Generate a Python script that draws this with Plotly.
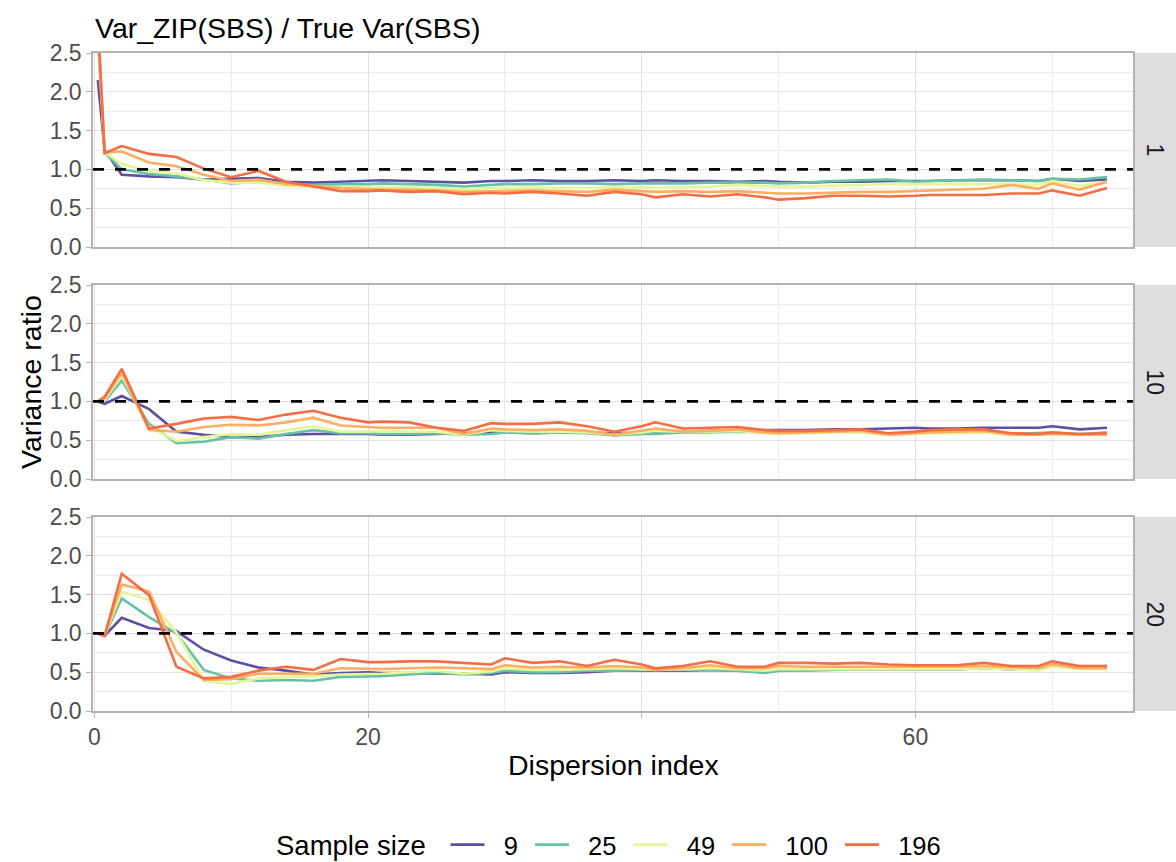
import plotly.graph_objects as go
from plotly.subplots import make_subplots

# ---------------- data ----------------
dispersion_index = [0.25, 0.75, 2, 4, 6, 8, 10, 12, 14, 16, 18, 20,
                    21, 23, 25, 27, 29, 30, 32, 34, 36, 38, 40, 41, 43, 45, 47, 49, 50,
                    52, 54, 56, 58, 60, 61, 63, 65, 67, 69, 70, 72, 74]

sample_sizes = ["9", "25", "49", "100", "196"]
facet_labels = ["1", "10", "20"]
y_ticks = [0.0, 0.5, 1.0, 1.5, 2.0, 2.5]
x_ticks = [0, 20, 40, 60]
x_tick_text = ["0", "20", "", "60"]

# facet "1"
f1_n9 = [2.15, 1.25, 0.93, 0.91, 0.90, 0.87, 0.88, 0.89, 0.84, 0.83, 0.84, 0.85,
         0.86, 0.85, 0.84, 0.83, 0.85, 0.85, 0.86, 0.85, 0.85, 0.86,
         0.85, 0.86, 0.85, 0.85, 0.84, 0.85, 0.84, 0.83, 0.84, 0.84,
         0.85, 0.85, 0.85, 0.86, 0.86, 0.86, 0.85, 0.88, 0.85, 0.87]
f1_n25 = [2.70, 1.22, 1.00, 0.94, 0.91, 0.87, 0.82, 0.84, 0.80, 0.80, 0.81, 0.81,
          0.82, 0.81, 0.80, 0.78, 0.80, 0.81, 0.81, 0.82, 0.82, 0.81,
          0.82, 0.82, 0.82, 0.83, 0.83, 0.83, 0.82, 0.83, 0.85, 0.86,
          0.87, 0.84, 0.85, 0.86, 0.87, 0.86, 0.85, 0.88, 0.87, 0.90]
f1_n49 = [2.80, 1.22, 1.07, 0.98, 0.95, 0.86, 0.83, 0.83, 0.79, 0.78, 0.77, 0.77,
          0.77, 0.77, 0.76, 0.74, 0.76, 0.76, 0.77, 0.76, 0.76, 0.77,
          0.77, 0.76, 0.77, 0.78, 0.80, 0.79, 0.78, 0.78, 0.79, 0.80,
          0.81, 0.81, 0.81, 0.81, 0.81, 0.81, 0.80, 0.85, 0.79, 0.84]
f1_n100 = [2.85, 1.22, 1.23, 1.09, 1.04, 0.93, 0.85, 0.87, 0.81, 0.79, 0.76, 0.75,
           0.74, 0.74, 0.73, 0.71, 0.72, 0.72, 0.73, 0.72, 0.71, 0.74,
           0.72, 0.71, 0.72, 0.71, 0.72, 0.70, 0.69, 0.69, 0.70, 0.71,
           0.71, 0.72, 0.73, 0.74, 0.75, 0.80, 0.75, 0.82, 0.74, 0.84]
f1_n196 = [2.95, 1.21, 1.30, 1.20, 1.16, 1.01, 0.90, 0.98, 0.84, 0.78, 0.72, 0.72,
           0.73, 0.71, 0.72, 0.68, 0.70, 0.69, 0.71, 0.69, 0.66, 0.71,
           0.68, 0.64, 0.68, 0.65, 0.68, 0.64, 0.61, 0.63, 0.66, 0.66,
           0.65, 0.66, 0.67, 0.67, 0.67, 0.69, 0.69, 0.73, 0.66, 0.76]

# facet "10"
f10_n9 = [1.00, 0.97, 1.07, 0.90, 0.61, 0.57, 0.54, 0.54, 0.57, 0.58, 0.58, 0.58,
          0.57, 0.57, 0.58, 0.59, 0.61, 0.60, 0.59, 0.60, 0.60, 0.59,
          0.60, 0.60, 0.61, 0.62, 0.63, 0.63, 0.63, 0.63, 0.64, 0.64,
          0.65, 0.66, 0.65, 0.65, 0.66, 0.66, 0.66, 0.68, 0.64, 0.66]
f10_n25 = [1.00, 1.00, 1.27, 0.71, 0.46, 0.48, 0.54, 0.52, 0.58, 0.63, 0.59, 0.59,
           0.58, 0.58, 0.59, 0.57, 0.58, 0.60, 0.59, 0.60, 0.59, 0.56,
           0.58, 0.58, 0.60, 0.60, 0.61, 0.60, 0.60, 0.60, 0.61, 0.62,
           0.58, 0.60, 0.61, 0.61, 0.62, 0.58, 0.59, 0.60, 0.58, 0.60]
f10_n49 = [1.00, 1.02, 1.33, 0.67, 0.49, 0.54, 0.58, 0.57, 0.63, 0.68, 0.61, 0.61,
           0.62, 0.61, 0.61, 0.57, 0.63, 0.62, 0.61, 0.61, 0.60, 0.57,
           0.60, 0.62, 0.61, 0.61, 0.62, 0.59, 0.58, 0.59, 0.60, 0.60,
           0.57, 0.58, 0.59, 0.59, 0.60, 0.57, 0.57, 0.58, 0.57, 0.57]
f10_n100 = [1.00, 1.04, 1.37, 0.63, 0.61, 0.67, 0.70, 0.69, 0.73, 0.79, 0.69, 0.67,
            0.66, 0.66, 0.66, 0.58, 0.65, 0.64, 0.63, 0.64, 0.62, 0.57,
            0.62, 0.65, 0.61, 0.62, 0.64, 0.60, 0.59, 0.60, 0.61, 0.62,
            0.57, 0.59, 0.60, 0.61, 0.62, 0.57, 0.57, 0.58, 0.57, 0.57]
f10_n196 = [1.00, 1.06, 1.42, 0.65, 0.71, 0.78, 0.80, 0.76, 0.83, 0.88, 0.79, 0.73,
            0.74, 0.73, 0.66, 0.62, 0.72, 0.71, 0.71, 0.73, 0.68, 0.61,
            0.68, 0.73, 0.65, 0.66, 0.67, 0.63, 0.62, 0.62, 0.63, 0.64,
            0.59, 0.61, 0.63, 0.64, 0.64, 0.59, 0.58, 0.60, 0.58, 0.59]

# facet "20"
f20_n9 = [1.00, 0.97, 1.20, 1.07, 1.03, 0.79, 0.65, 0.56, 0.52, 0.47, 0.49, 0.50,
          0.49, 0.49, 0.48, 0.48, 0.47, 0.50, 0.49, 0.49, 0.50, 0.52,
          0.52, 0.52, 0.52, 0.53, 0.52, 0.51, 0.52, 0.53, 0.54, 0.54,
          0.54, 0.54, 0.54, 0.54, 0.55, 0.54, 0.54, 0.60, 0.56, 0.58]
f20_n25 = [1.00, 0.97, 1.45, 1.21, 1.00, 0.53, 0.42, 0.39, 0.40, 0.39, 0.44, 0.45,
           0.45, 0.47, 0.49, 0.47, 0.49, 0.52, 0.50, 0.50, 0.52, 0.52,
           0.53, 0.53, 0.53, 0.53, 0.52, 0.49, 0.52, 0.52, 0.53, 0.54,
           0.54, 0.54, 0.54, 0.54, 0.55, 0.54, 0.54, 0.58, 0.55, 0.56]
f20_n49 = [1.00, 0.97, 1.54, 1.43, 1.01, 0.39, 0.35, 0.42, 0.44, 0.45, 0.47, 0.48,
           0.48, 0.50, 0.52, 0.48, 0.51, 0.55, 0.53, 0.53, 0.54, 0.55,
           0.54, 0.53, 0.54, 0.55, 0.54, 0.52, 0.54, 0.54, 0.54, 0.54,
           0.54, 0.54, 0.54, 0.54, 0.55, 0.54, 0.52, 0.57, 0.54, 0.54]
f20_n100 = [1.00, 0.97, 1.63, 1.54, 0.76, 0.40, 0.41, 0.48, 0.48, 0.48, 0.55, 0.54,
            0.54, 0.55, 0.56, 0.55, 0.54, 0.59, 0.56, 0.57, 0.56, 0.58,
            0.56, 0.53, 0.55, 0.59, 0.55, 0.55, 0.58, 0.57, 0.57, 0.57,
            0.57, 0.57, 0.57, 0.57, 0.58, 0.56, 0.56, 0.60, 0.55, 0.55]
f20_n196 = [1.00, 0.97, 1.77, 1.49, 0.57, 0.42, 0.44, 0.52, 0.57, 0.53, 0.67, 0.63,
            0.63, 0.64, 0.64, 0.62, 0.60, 0.68, 0.62, 0.64, 0.58, 0.66,
            0.60, 0.55, 0.58, 0.64, 0.57, 0.57, 0.62, 0.62, 0.61, 0.62,
            0.60, 0.59, 0.59, 0.59, 0.62, 0.58, 0.58, 0.64, 0.58, 0.58]

facet_series = [
    [f1_n9, f1_n25, f1_n49, f1_n100, f1_n196],
    [f10_n9, f10_n25, f10_n49, f10_n100, f10_n196],
    [f20_n9, f20_n25, f20_n49, f20_n100, f20_n196],
]
for grp in facet_series:
    for s in grp:
        assert len(s) == len(dispersion_index), len(s)

# ---------------- style ----------------
colors = ["#5E4FA2", "#66C2A5", "#E6F598", "#FDAE61", "#F46D43"]
FONT = "Liberation Sans, Arial, Helvetica, sans-serif"
W, H = 1176, 862
ML, MR, MT, MB = 93, 43, 53, 151
plot_h = H - MT - MB
plot_w = W - ML - MR
NB = "\u00a0"


def py(pix):
    return (H - MB - pix) / plot_h


def px(pix):
    return (pix - ML) / plot_w


domains = [[py(247), 1.0], [py(479), py(285)], [0.0, py(517)]]

fig = make_subplots(rows=3, cols=1, shared_xaxes=True, vertical_spacing=0.05)

for r, grp in enumerate(facet_series, start=1):
    for i, s in enumerate(grp):
        fig.add_trace(go.Scatter(
            x=dispersion_index, y=s, mode="lines",
            name=NB * 2 + sample_sizes[i] + NB,
            legendgroup=sample_sizes[i],
            showlegend=(r == 1),
            line=dict(color=colors[i], width=2.6),
        ), row=r, col=1)

grid_major = "#E0E0E0"
grid_minor = "#EBEBEB"
border = "#B3B3B3"

for r in range(1, 4):
    yname = "yaxis" if r == 1 else f"yaxis{r}"
    xname = "xaxis" if r == 1 else f"xaxis{r}"
    fig.layout[yname].update(
        domain=domains[r - 1], range=[0, 2.5], tickvals=y_ticks,
        ticktext=[f"{v:.1f}" for v in y_ticks],
        showgrid=True, gridcolor=grid_major, gridwidth=1.2,
        minor=dict(dtick=0.25, tick0=0, showgrid=True, gridcolor=grid_minor, gridwidth=0.8),
        showline=True, mirror=True, linecolor=border, linewidth=1.5,
        ticks="outside", ticklen=5, tickcolor=border, tickwidth=1.2,
        tickfont=dict(family=FONT, size=23, color="#4D4D4D"),
        zeroline=False, fixedrange=True,
    )
    fig.layout[xname].update(
        range=[-0.1, 75.9], tickvals=x_ticks, ticktext=x_tick_text,
        showgrid=True, gridcolor=grid_major, gridwidth=1.2,
        minor=dict(dtick=10, tick0=0, showgrid=True, gridcolor=grid_minor, gridwidth=0.8),
        showline=True, mirror=True, linecolor=border, linewidth=1.5,
        ticks="outside" if r == 3 else "", ticklen=5, tickcolor=border, tickwidth=1.2,
        showticklabels=(r == 3),
        tickfont=dict(family=FONT, size=23, color="#4D4D4D"),
        zeroline=False,
    )
    # reference line
    fig.add_shape(type="line", xref=f"{'x' if r == 1 else 'x' + str(r)} domain",
                  yref=("y" if r == 1 else f"y{r}"),
                  x0=0, x1=1, y0=1, y1=1, layer="above",
                  line=dict(color="black", width=2.6, dash="11px,11px"))
    # strip
    d0, d1 = domains[r - 1]
    fig.add_shape(type="rect", xref="paper", yref="paper",
                  x0=1.0, x1=1.0 + MR / plot_w, y0=d0, y1=d1,
                  fillcolor="#DEDEDE", line=dict(width=0), layer="below")
    fig.add_annotation(xref="paper", yref="paper", x=1.0 + MR / plot_w / 2,
                       y=(d0 + d1) / 2, text=facet_labels[r - 1], showarrow=False,
                       xanchor="center", yanchor="middle",
                       textangle=90, font=dict(family=FONT, size=23, color="#1A1A1A"))

# titles
fig.add_annotation(xref="paper", yref="paper", x=0, y=py(28), xanchor="left",
                   yanchor="middle", text="Var_ZIP(SBS) / True Var(SBS)", showarrow=False,
                   font=dict(family=FONT, size=28.5, color="black"))
fig.add_annotation(xref="paper", yref="paper", x=px(31), y=py(382),
                   xanchor="center", yanchor="middle",
                   text="Variance ratio", showarrow=False, textangle=-90,
                   font=dict(family=FONT, size=28.5, color="black"))
fig.add_annotation(xref="paper", yref="paper", x=0.5, y=py(765),
                   xanchor="center", yanchor="middle",
                   text="Dispersion index", showarrow=False,
                   font=dict(family=FONT, size=28.5, color="black"))
# legend title
fig.add_annotation(xref="paper", yref="paper", x=px(274), y=py(845),
                   xanchor="left", yanchor="middle",
                   text="Sample size", showarrow=False,
                   font=dict(family=FONT, size=27.5, color="black"))

fig.update_layout(
    width=W, height=H,
    margin=dict(l=ML, r=MR, t=MT, b=MB, autoexpand=False),
    paper_bgcolor="white", plot_bgcolor="white",
    font=dict(family=FONT),
    legend=dict(
        orientation="h", x=px(445.5), xanchor="left", y=py(845), yanchor="middle",
        font=dict(family=FONT, size=25.5, color="black"),
        itemwidth=34, tracegroupgap=0, bgcolor="rgba(0,0,0,0)",
    ),
)

fig.write_html("out.html", config={"displayModeBar": False},
               post_script="document.body.style.margin='0px';")
